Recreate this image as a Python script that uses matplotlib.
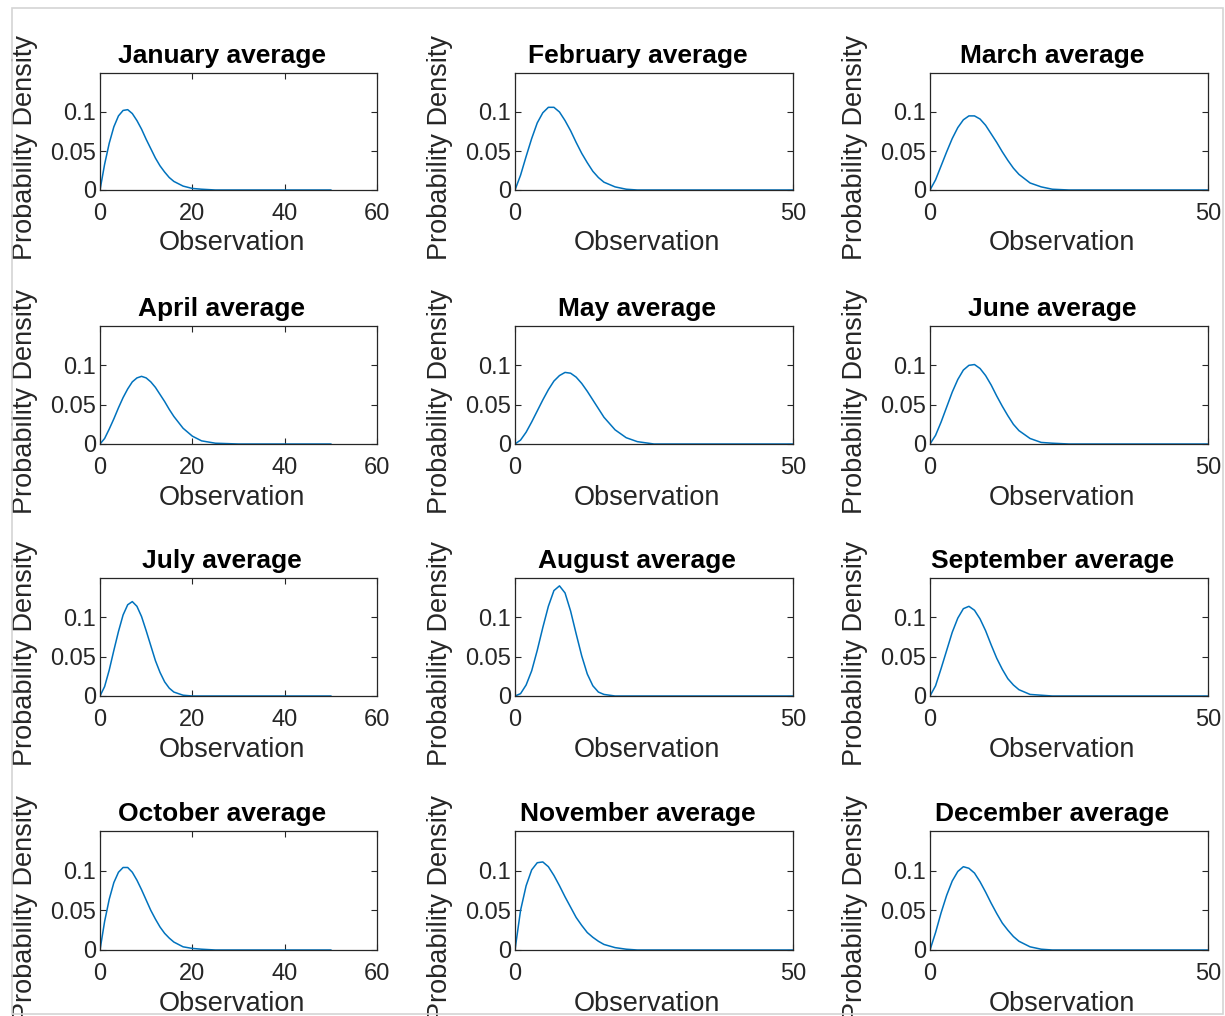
import numpy as np
import matplotlib.pyplot as plt
from matplotlib.patches import Rectangle

plt.rcParams['font.family'] = ['Liberation Sans', 'DejaVu Sans']

# month names, one panel each (row-major, 4 rows x 3 cols)
months = ["January", "February", "March", "April", "May", "June",
          "July", "August", "September", "October", "November", "December"]

obs = [0, 1, 2, 3, 4, 5, 6, 7, 8, 9, 10, 11, 12, 13, 14, 15, 16, 18, 20, 22, 25, 30, 50]

# probability density
jan = [0, .033, .060, .081, .095, .102, .103, .098, .089, .078, .065, .053, .041, .031, .023, .016, .011, .005, .002, .001, 0, 0, 0]
feb = [0, .019, .043, .066, .086, .099, .106, .106, .100, .089, .076, .061, .047, .035, .024, .016, .010, .004, .001, 0, 0, 0, 0]
mar = [0, .013, .031, .049, .066, .080, .090, .095, .095, .091, .083, .072, .061, .049, .038, .028, .020, .009, .004, .001, 0, 0, 0]
apr = [0, .007, .019, .032, .046, .059, .070, .079, .084, .086, .084, .079, .072, .063, .054, .044, .035, .020, .010, .004, .001, 0, 0]
may = [0, .005, .015, .028, .042, .056, .069, .080, .087, .091, .090, .085, .077, .067, .056, .045, .034, .018, .008, .003, 0, 0, 0]
jun = [0, .011, .028, .047, .066, .082, .094, .100, .101, .096, .087, .075, .061, .048, .036, .025, .017, .007, .002, .001, 0, 0, 0]
jul = [0, .012, .033, .058, .082, .103, .116, .120, .114, .101, .083, .064, .045, .030, .018, .010, .005, .001, 0, 0, 0, 0, 0]
aug = [0, .003, .014, .032, .058, .087, .114, .134, .140, .131, .108, .079, .051, .028, .013, .005, .002, 0, 0, 0, 0, 0, 0]
sep = [0, .013, .035, .058, .081, .099, .111, .114, .109, .098, .083, .065, .048, .034, .022, .014, .008, .002, .001, 0, 0, 0, 0]
octo = [0, .036, .064, .085, .098, .104, .104, .098, .088, .076, .063, .050, .039, .029, .021, .015, .010, .004, .002, .001, 0, 0, 0]
nov = [0, .050, .081, .101, .110, .111, .105, .094, .081, .067, .054, .041, .031, .022, .016, .011, .007, .003, .001, 0, 0, 0, 0]
dec = [0, .022, .047, .069, .087, .099, .105, .103, .097, .086, .073, .059, .046, .034, .025, .017, .011, .004, .001, 0, 0, 0, 0]
pdfs = [jan, feb, mar, apr, may, jun, jul, aug, sep, octo, nov, dec]

# x axis per column
col_xmax = [60, 50, 50]
col_xticks = [[0, 20, 40, 60], [0, 50], [0, 50]]
yticks = [0, 0.05, 0.1]
yticklabels = ["0", "0.05", "0.1"]

W, H = 1225, 1016
fig = plt.figure(figsize=(W / 100, H / 100), dpi=100)

col_left = [100, 515, 930]
col_right = [377, 793, 1208]
row_top = [73, 326, 578, 831]
row_bot = [190, 444, 696, 950]

txt = '#262626'
blue = '#0072BD'

for i, name in enumerate(months):
    r, c = divmod(i, 3)
    ax = fig.add_axes([col_left[c] / W, 1 - row_bot[r] / H,
                       (col_right[c] - col_left[c]) / W, (row_bot[r] - row_top[r]) / H])
    ax.plot(obs, pdfs[i], color=blue, lw=1.1)
    ax.set_xlim(0, col_xmax[c])
    ax.set_ylim(0, 0.15)
    ax.set_xticks(col_xticks[c])
    ax.set_yticks(yticks)
    ax.set_yticklabels(yticklabels)
    ax.tick_params(direction='in', length=4, width=0.8, top=True, right=True,
                   labelsize=17, colors=txt)
    ax.tick_params(axis='x', pad=9)
    ax.tick_params(axis='y', pad=3)
    for s in ax.spines.values():
        s.set_color(txt)
        s.set_linewidth(0.9)
    ax.set_title(name + " average", fontsize=19, fontweight='bold', color='black',
                 x=0.44, y=1.085, pad=0)
    ax.set_xlabel("Observation", fontsize=19.5, color=txt, va='center')
    ax.xaxis.set_label_coords(0.475, -0.455)
    ax.set_ylabel("Probability Density", fontsize=19.5, color=txt, va='center')
    ax.yaxis.set_label_coords(-0.27, 0.36)

# light screenshot frame around the figure
fig.patches.append(Rectangle((12 / W, 2 / H), (1223 - 12) / W, (1014 - 8) / H,
                             transform=fig.transFigure, fill=False,
                             ec='#d4d4d4', lw=1.2))

plt.savefig("out.png", dpi=100)
